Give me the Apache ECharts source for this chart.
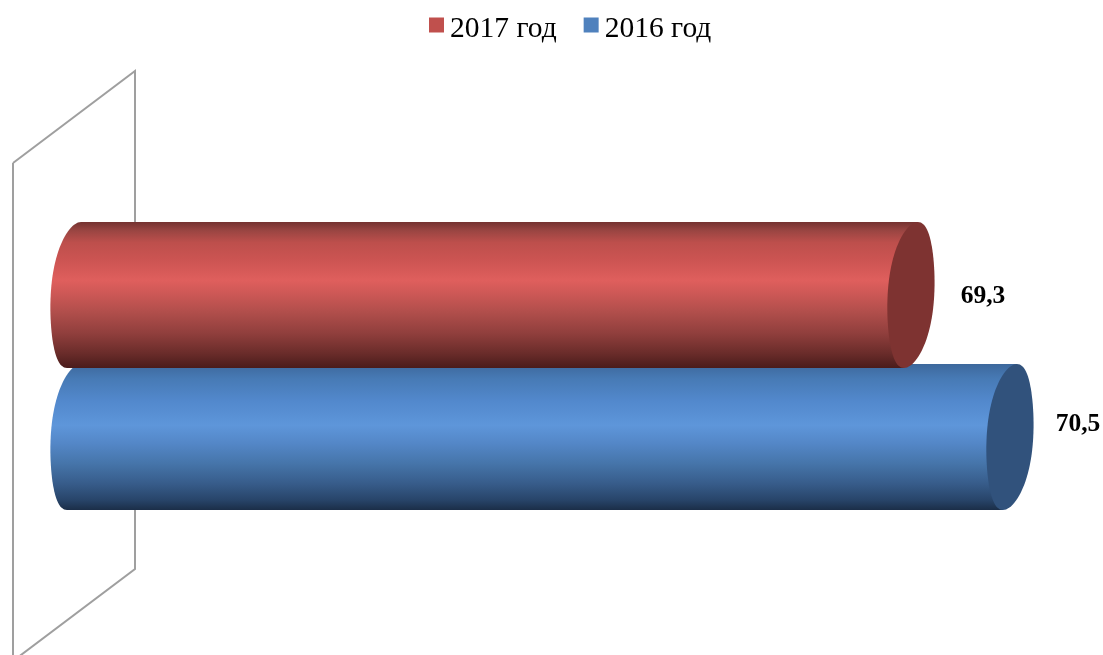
<!DOCTYPE html>
<html><head><meta charset="utf-8">
<style>html,body{margin:0;padding:0;background:#fff}#c{width:1103px;height:655px}</style>
<script src="https://cdn.jsdelivr.net/npm/echarts@6/dist/echarts.min.js"></script>
</head><body><div id="c"></div>
<script>
const categories = ['2017 год', '2016 год'];
const values2017 = [69.3];
const values2016 = [70.5];
const labels = ['69,3', '70,5'];

const FONT = '"Liberation Serif","Times New Roman",serif';
const styles = [
  { face: '#7e3331', legend: '#c0504d', dx: 72, dy: 1.5,
    stops: [[0,'#743230'],[0.06,'#9a4542'],[0.14,'#bd4f4c'],[0.26,'#cc5452'],[0.40,'#df5f5d'],[0.50,'#cb5755'],[0.62,'#b04e4b'],[0.76,'#913f3d'],[0.90,'#6a2c2a'],[1,'#4a1c1b']] },
  { face: '#31527c', legend: '#4f81bd', dx: 68, dy: -13,
    stops: [[0,'#3d689c'],[0.10,'#477ab5'],[0.25,'#5288cc'],[0.42,'#5e96da'],[0.55,'#5386c6'],[0.68,'#4675aa'],[0.82,'#375c8a'],[0.93,'#28456a'],[1,'#1b2e48']] }
];
const BAR_RATIO = 146 / 142, EA = 23.3, ES = 6.2, EK = 0.8;
const axisMin = 59.155, axisMax = 71.628;

function ellipsePoint(cx, cy, b, t) {
  return [cx + EA * Math.cos(t) - ES * Math.sin(t) + EK * Math.sin(3 * t), cy + b * Math.sin(t)];
}
function renderCylinder(idx) {
  return function (params, api) {
    const st = styles[idx];
    const cat = api.value(1);
    const end = api.coord([api.value(0), cat]);
    const start = api.coord([axisMin, cat]);
    const b = api.size([0, 1])[1] * BAR_RATIO / 2;
    const cy = end[1];
    const body = [];
    for (let i = 0; i <= 48; i++) {
      body.push(ellipsePoint(start[0], cy, b, Math.PI / 2 + Math.PI * i / 48));
    }
    body.push([end[0] + ES + EK, cy - b], [end[0] - ES - EK, cy + b]);
    const cap = [];
    for (let i = 0; i < 96; i++) {
      cap.push(ellipsePoint(end[0], cy, b, 2 * Math.PI * i / 96));
    }
    return {
      type: 'group',
      children: [
        { type: 'polygon', shape: { points: body },
          style: { fill: { type: 'linear', x: 0, y: 0, x2: 0, y2: 1,
            colorStops: st.stops.map(s => ({ offset: s[0], color: s[1] })) } } },
        { type: 'polygon', shape: { points: cap }, style: { fill: st.face } },
        { type: 'text', style: { x: end[0] + st.dx, y: cy + st.dy, text: labels[idx],
            align: 'center', verticalAlign: 'middle', fill: '#000',
            font: 'bold 25.5px ' + FONT } }
      ]
    };
  };
}

const chart = echarts.init(document.getElementById('c'), null, { renderer: 'canvas' });
chart.setOption({
  animation: false,
  backgroundColor: '#fff',
  legend: {
    left: 429, top: 14, padding: 0, itemWidth: 15, itemHeight: 15, itemGap: 27, icon: 'rect',
    data: ['2017 год', '2016 год'],
    formatter: name => '{t|' + name + '}',
    textStyle: { rich: { t: { fontFamily: FONT, fontSize: 29.5, color: '#000', padding: [8, 0, 0, 1] } } }
  },
  grid: { left: 74, top: 224, width: 1029, height: 284 },
  xAxis: { type: 'value', min: axisMin, max: axisMax, show: false },
  yAxis: { type: 'category', data: categories, inverse: true, show: false },
  graphic: [{
    type: 'polyline', silent: true, z: 0,
    shape: { points: [[13,163],[135,71],[135,569],[13,661],[13,163]] },
    style: { stroke: '#9f9f9f', lineWidth: 2, fill: 'none' }
  }],
  series: [
    { type: 'custom', name: '2017 год', z: 4, renderItem: renderCylinder(0), clip: false,
      itemStyle: { color: styles[0].legend }, encode: { x: 0, y: 1 },
      data: values2017.map(v => [v, 0]) },
    { type: 'custom', name: '2016 год', z: 3, renderItem: renderCylinder(1), clip: false,
      itemStyle: { color: styles[1].legend }, encode: { x: 0, y: 1 },
      data: values2016.map(v => [v, 1]) }
  ]
});
</script></body></html>
